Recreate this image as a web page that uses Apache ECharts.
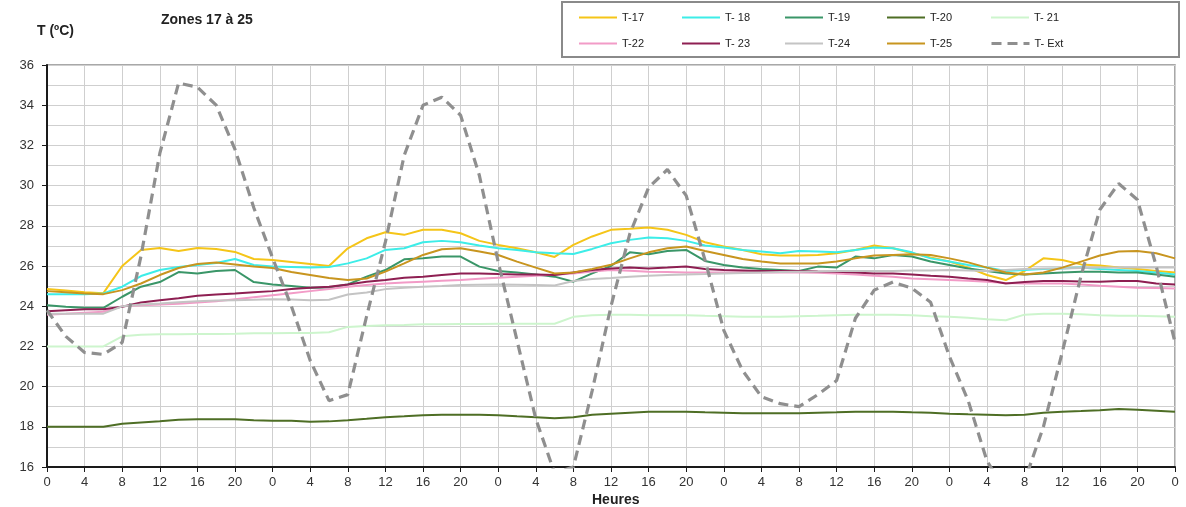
<!DOCTYPE html>
<html>
<head>
<meta charset="utf-8">
<script src="https://cdn.jsdelivr.net/npm/echarts@6/dist/echarts.min.js"></script>
<style>
html,body{margin:0;padding:0;background:#fff;}
#chart{width:1186px;height:507px;}
</style>
</head>
<body>
<div id="chart"></div>
<script>
const hours = [0,2,4,6,8,10,12,14,16,18,20,22,24,26,28,30,32,34,36,38,40,42,44,46,48,50,52,54,56,58,60,62,64,66,68,70,72,74,76,78,80,82,84,86,88,90,92,94,96,98,100,102,104,106,108,110,112,114,116,118,120];
const tickLabels = ['0','4','8','12','16','20','0','4','8','12','16','20','0','4','8','12','16','20','0','4','8','12','16','20','0','4','8','12','16','20','0'];

const t17 = [24.85,24.78,24.7,24.65,26.0,26.8,26.9,26.75,26.9,26.85,26.7,26.35,26.3,26.2,26.1,26.0,26.88,27.38,27.68,27.55,27.8,27.8,27.63,27.25,27.05,26.88,26.68,26.45,27.05,27.47,27.8,27.85,27.92,27.8,27.55,27.18,26.97,26.8,26.58,26.52,26.52,26.55,26.63,26.8,27.02,26.88,26.63,26.42,26.22,25.92,25.55,25.3,25.75,26.38,26.3,26.08,26.02,25.92,25.85,25.75,25.68];
const t18 = [24.6,24.6,24.6,24.63,24.97,25.5,25.8,25.95,26.05,26.15,26.35,26.05,25.97,25.95,25.93,25.95,26.13,26.38,26.8,26.88,27.18,27.25,27.18,27.02,26.88,26.8,26.68,26.63,26.6,26.85,27.13,27.3,27.42,27.38,27.25,27.02,26.92,26.8,26.72,26.63,26.75,26.72,26.68,26.8,26.92,26.88,26.68,26.38,26.22,26.05,25.92,25.75,25.8,25.85,25.88,25.92,25.85,25.8,25.75,25.68,25.58];
const t19 = [24.05,23.97,23.92,23.92,24.47,24.97,25.2,25.7,25.63,25.75,25.8,25.2,25.08,25.0,24.92,24.93,25.08,25.47,25.8,26.33,26.38,26.47,26.47,25.97,25.75,25.68,25.58,25.47,25.22,25.63,26.0,26.68,26.58,26.75,26.8,26.25,26.05,25.92,25.85,25.8,25.75,25.97,25.92,26.47,26.38,26.55,26.47,26.22,26.05,25.88,25.75,25.63,25.58,25.63,25.68,25.72,25.72,25.68,25.68,25.58,25.47];
const t20 = [18,18,18,18,18.15,18.22,18.28,18.35,18.38,18.38,18.38,18.32,18.3,18.3,18.25,18.27,18.33,18.4,18.48,18.52,18.58,18.6,18.6,18.6,18.58,18.52,18.48,18.43,18.47,18.6,18.65,18.7,18.75,18.75,18.75,18.72,18.7,18.68,18.68,18.68,18.68,18.7,18.72,18.75,18.75,18.75,18.72,18.7,18.65,18.62,18.6,18.58,18.6,18.7,18.75,18.78,18.82,18.88,18.85,18.8,18.75];
const t21 = [22.0,22.0,22.0,22.0,22.5,22.58,22.6,22.6,22.62,22.62,22.63,22.65,22.65,22.67,22.67,22.7,22.97,23.02,23.05,23.07,23.1,23.1,23.12,23.12,23.13,23.13,23.13,23.13,23.47,23.55,23.58,23.57,23.55,23.55,23.55,23.52,23.5,23.48,23.47,23.48,23.5,23.52,23.55,23.57,23.58,23.58,23.55,23.5,23.47,23.42,23.35,23.3,23.58,23.62,23.63,23.6,23.55,23.53,23.52,23.5,23.47];
const t22 = [23.58,23.62,23.68,23.72,24.0,24.05,24.08,24.12,24.18,24.25,24.35,24.45,24.55,24.65,24.75,24.85,24.97,25.05,25.13,25.18,25.22,25.26,25.3,25.36,25.42,25.47,25.52,25.57,25.63,25.72,25.8,25.76,25.72,25.7,25.68,25.68,25.68,25.68,25.68,25.68,25.68,25.66,25.63,25.58,25.52,25.47,25.38,25.34,25.3,25.26,25.22,25.15,25.13,25.13,25.13,25.08,25.02,24.97,24.92,24.9,24.88];
const t23 = [23.75,23.8,23.85,23.85,23.97,24.18,24.3,24.4,24.52,24.58,24.63,24.7,24.75,24.85,24.92,24.97,25.08,25.22,25.3,25.42,25.47,25.55,25.63,25.63,25.6,25.58,25.58,25.55,25.68,25.8,25.88,25.92,25.88,25.92,25.97,25.85,25.8,25.78,25.75,25.75,25.75,25.73,25.72,25.68,25.63,25.63,25.58,25.52,25.47,25.38,25.3,25.13,25.2,25.25,25.25,25.23,25.22,25.25,25.25,25.13,25.08];
const t24 = [23.63,23.63,23.63,23.63,24.0,24.08,24.13,24.2,24.25,24.28,24.3,24.32,24.35,24.33,24.3,24.32,24.58,24.68,24.85,24.92,24.97,25.0,25.05,25.07,25.08,25.07,25.05,25.03,25.25,25.35,25.4,25.47,25.52,25.55,25.58,25.6,25.63,25.65,25.68,25.7,25.72,25.73,25.75,25.75,25.75,25.75,25.77,25.78,25.8,25.78,25.75,25.8,25.85,25.87,25.88,25.9,25.92,25.92,25.92,25.92,25.92];
const t25 = [24.75,24.7,24.63,24.6,24.8,25.13,25.55,25.9,26.1,26.18,26.08,25.97,25.9,25.7,25.55,25.4,25.3,25.38,25.72,26.13,26.55,26.83,26.88,26.72,26.55,26.22,25.92,25.63,25.68,25.85,26.06,26.38,26.68,26.88,26.97,26.75,26.55,26.35,26.22,26.13,26.13,26.13,26.22,26.38,26.52,26.55,26.58,26.55,26.38,26.18,25.92,25.68,25.58,25.68,25.92,26.22,26.52,26.72,26.75,26.63,26.38];
const tExt = [23.8,22.5,21.7,21.6,22.2,26.5,31.6,35.1,34.9,34.0,31.8,28.9,26.4,24.0,21.3,19.3,19.6,23.5,27.2,31.5,34.0,34.4,33.5,30.5,26.2,22.3,18.4,15.7,16.0,19.8,24.0,27.6,29.9,30.8,29.5,26.3,22.8,20.8,19.5,19.15,19.0,19.6,20.3,23.4,24.8,25.2,24.9,24.2,21.5,19.3,16.3,14.8,15.3,18.0,21.7,25.5,28.8,30.1,29.3,26.0,22.2];

const seriesNames = ['T-17','T- 18','T-19','T-20','T- 21','T-22','T- 23','T-24','T-25','T- Ext'];
const seriesData = [t17,t18,t19,t20,t21,t22,t23,t24,t25,tExt];
const seriesColors = ['#F5C518','#3DEDE8','#3A9668','#4E6E25','#CDF5CD','#F29BC7','#8E1F52','#C4C4C4','#C8951F','#8F8F8F'];

const FONT = 'Liberation Sans, Arial, sans-serif';
const chart = echarts.init(document.getElementById('chart'));

const series = seriesNames.map((name, i) => ({
  name: name,
  type: 'line',
  data: hours.map((h, k) => [h, seriesData[i][k]]),
  symbol: 'none',
  smooth: false,
  clip: true,
  z: i === 9 ? 3 : 2,
  lineStyle: i === 9
    ? {color: seriesColors[i], width: 3.2, type: [10, 6]}
    : {color: seriesColors[i], width: 2},
  itemStyle: {color: seriesColors[i]}
}));

const colLeft = [578, 681, 784, 886, 990];
const rowTop = [12, 38];
const legends = seriesNames.map((name, i) => ({
  data: [name],
  left: colLeft[i % 5],
  top: rowTop[Math.floor(i / 5)],
  padding: 0,
  itemWidth: 38,
  itemHeight: 12,
  itemGap: 0,
  selectedMode: false,
  itemStyle: {opacity: 0},
  lineStyle: {width: i === 9 ? 3 : 2},
  textStyle: {fontFamily: FONT, fontSize: 11, color: '#222'}
}));

chart.setOption({
  animation: false,
  backgroundColor: '#ffffff',
  title: [
    {text: 'Zones 17 à 25', left: 161, top: 13, padding: 0,
     textStyle: {fontFamily: FONT, fontSize: 14, fontWeight: 'bold', color: '#222'}},
    {text: 'T (ºC)', left: 37, top: 24, padding: 0,
     textStyle: {fontFamily: FONT, fontSize: 14, fontWeight: 'bold', color: '#222'}},
    {text: 'Heures', left: 592, top: 493, padding: 0,
     textStyle: {fontFamily: FONT, fontSize: 14, fontWeight: 'bold', color: '#222'}}
  ],
  graphic: [{
    type: 'rect',
    shape: {x: 562, y: 2, width: 617, height: 55},
    style: {fill: 'none', stroke: '#8a8a8a', lineWidth: 2},
    z: 0
  }],
  legend: legends,
  grid: {left: 47, right: 11, top: 65, bottom: 40, show: true, borderColor: '#8c8c8c', borderWidth: 1.5},
  xAxis: {
    type: 'value', min: 0, max: 120, interval: 4,
    axisLine: {show: true, onZero: false, lineStyle: {color: '#1a1a1a', width: 2}},
    axisTick: {show: true, length: 5, lineStyle: {color: '#1a1a1a', width: 1}},
    axisLabel: {
      margin: 9, color: '#333', fontSize: 13, fontFamily: FONT,
      formatter: v => tickLabels[Math.round(v / 4)]
    },
    splitLine: {show: true, lineStyle: {color: '#cfcfcf', width: 1}}
  },
  yAxis: {
    type: 'value', min: 16, max: 36, interval: 2,
    axisLine: {show: true, lineStyle: {color: '#1a1a1a', width: 2}},
    axisTick: {show: true, length: 5, lineStyle: {color: '#1a1a1a', width: 1}},
    axisLabel: {margin: 13, color: '#333', fontSize: 13, fontFamily: FONT},
    splitLine: {show: true, lineStyle: {color: '#cfcfcf', width: 1}},
    minorTick: {show: false, splitNumber: 2},
    minorSplitLine: {show: true, lineStyle: {color: '#cfcfcf', width: 1}}
  },
  series: series
});
</script>
</body>
</html>
